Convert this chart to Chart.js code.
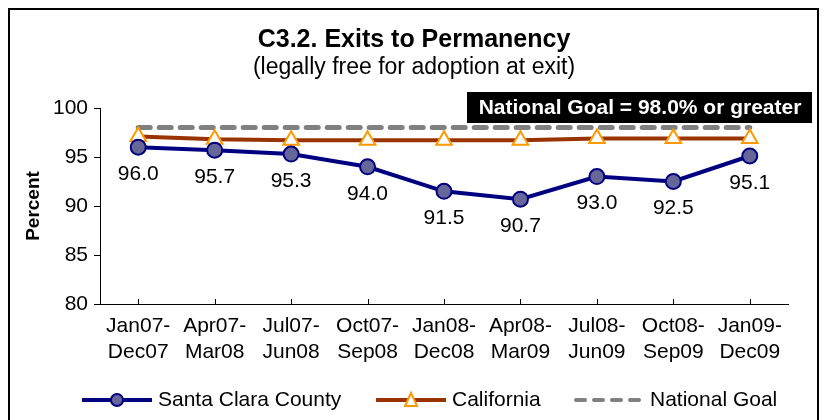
<!DOCTYPE html>
<html>
<head>
<meta charset="utf-8">
<script src="https://cdn.jsdelivr.net/npm/chart.js@4.4.1/dist/chart.umd.min.js"></script>
<style>
  html, body { margin: 0; padding: 0; background: #fff; }
  #wrap { width: 828px; height: 420px; }
</style>
</head>
<body>
<div id="wrap"><canvas id="chartExits" width="828" height="420"></canvas></div>
<script>
// Datos del gráfico
const periodos = [['Jan07-', 'Dec07'], ['Apr07-', 'Mar08'], ['Jul07-', 'Jun08'], ['Oct07-', 'Sep08'],
  ['Jan08-', 'Dec08'], ['Apr08-', 'Mar09'], ['Jul08-', 'Jun09'], ['Oct08-', 'Sep09'], ['Jan09-', 'Dec09']];
const santaClara = [96.0, 95.7, 95.3, 94.0, 91.5, 90.7, 93.0, 92.5, 95.1];
const california = [97.1, 96.8, 96.7, 96.7, 96.7, 96.7, 96.9, 96.9, 96.9];
const metaNacional = [98.0, 98.0, 98.0, 98.0, 98.0, 98.0, 98.0, 98.0, 98.0];
const ticksY = [80, 85, 90, 95, 100];
const titulo = 'C3.2. Exits to Permanency';
const subtitulo = '(legally free for adoption at exit)';
const notaMeta = 'National Goal = 98.0% or greater';

const FONT = '"Liberation Sans", Arial, sans-serif';

// Marco, títulos, etiquetas y leyenda
const extras = {
  id: 'extras',
  beforeDraw(chart) {
    const c = chart.ctx;
    c.save();
    c.fillStyle = '#fff';
    c.fillRect(0, 0, chart.width, chart.height);
    c.strokeStyle = '#000';
    c.lineWidth = 2;
    c.strokeRect(9, 9, 809, 430);
    c.restore();
  },
  afterDraw(chart) {
    const c = chart.ctx;
    c.save();
    c.fillStyle = '#000';
    c.textAlign = 'center';
    c.textBaseline = 'middle';
    c.font = 'bold 25px ' + FONT;
    c.fillText(titulo, 414, 40);
    c.font = '23px ' + FONT;
    c.fillText(subtitulo, 414, 68);

    // marcas del eje x hacia dentro
    const xs = chart.scales.x;
    c.strokeStyle = '#000';
    c.lineWidth = 1;
    xs.ticks.forEach((t, i) => {
      const px = Math.round(xs.getPixelForTick(i)) + 0.5;
      c.beginPath(); c.moveTo(px, xs.top); c.lineTo(px, xs.top - 5); c.stroke();
    });

    // caja de la meta
    c.fillStyle = '#000';
    c.fillRect(467, 92, 345, 31);
    c.fillStyle = '#fff';
    c.font = 'bold 21px ' + FONT;
    c.fillText(notaMeta, 640, 108);

    // valores de Santa Clara
    const meta = chart.getDatasetMeta(0);
    c.fillStyle = '#000';
    c.font = '21px ' + FONT;
    meta.data.forEach((pt, i) => {
      c.fillText(santaClara[i].toFixed(1), pt.x, pt.y + 27);
    });

    // leyenda
    const y = 400;
    c.lineWidth = 4;
    c.strokeStyle = '#000080';
    c.beginPath(); c.moveTo(82, y); c.lineTo(152, y); c.stroke();
    c.beginPath(); c.arc(117, y, 6, 0, Math.PI * 2);
    c.fillStyle = '#666699'; c.fill();
    c.lineWidth = 2; c.stroke();
    c.fillStyle = '#000';
    c.textAlign = 'left';
    c.font = '21px ' + FONT;
    c.fillText('Santa Clara County', 158, y);

    c.lineWidth = 4;
    c.strokeStyle = '#993300';
    c.beginPath(); c.moveTo(376, y); c.lineTo(446, y); c.stroke();
    c.beginPath(); c.moveTo(411, y - 7); c.lineTo(417, y + 6); c.lineTo(405, y + 6); c.closePath();
    c.fillStyle = '#fff'; c.fill();
    c.lineWidth = 2; c.strokeStyle = '#FF9900'; c.stroke();
    c.fillStyle = '#000';
    c.fillText('California', 452, y);

    c.lineWidth = 4;
    c.strokeStyle = '#808080';
    c.lineCap = 'round';
    c.setLineDash([9, 9]);
    c.beginPath(); c.moveTo(576, y); c.lineTo(641, y); c.stroke();
    c.setLineDash([]);
    c.fillText('National Goal', 650, y);
    c.restore();
  }
};

const ctxExits = document.getElementById('chartExits');
new Chart(ctxExits, {
  type: 'line',
  data: {
    labels: periodos,
    datasets: [{
      label: 'Santa Clara County',
      data: santaClara,
      borderColor: '#000080',
      borderWidth: 4,
      pointRadius: 7.5,
      pointBackgroundColor: '#666699',
      pointBorderColor: '#000080',
      pointBorderWidth: 2,
      order: 1
    }, {
      label: 'California',
      data: california,
      borderColor: '#993300',
      borderWidth: 4,
      pointStyle: 'triangle',
      pointRadius: 9,
      pointBackgroundColor: '#fff',
      pointBorderColor: '#FF9900',
      pointBorderWidth: 2,
      order: 2
    }, {
      label: 'National Goal',
      data: metaNacional,
      borderColor: '#808080',
      borderWidth: 5,
      borderCapStyle: 'round',
      borderDash: [12, 9],
      pointRadius: 0,
      order: 3
    }]
  },
  options: {
    responsive: false,
    animation: false,
    layout: { padding: { left: 20, right: 40, top: 108, bottom: 56 } },
    plugins: {
      legend: { display: false },
      tooltip: { enabled: false }
    },
    scales: {
      x: {
        offset: true,
        grid: { display: false, drawTicks: false },
        border: { display: true, color: '#000', width: 1 },
        ticks: { color: '#000', font: { family: FONT, size: 21 }, padding: 10, maxRotation: 0, autoSkip: false },
        afterFit(s) { s.height = 60; }
      },
      y: {
        min: 80,
        max: 100,
        afterBuildTicks(s) { s.ticks = ticksY.map(v => ({ value: v })); },
        grid: { drawOnChartArea: false, tickLength: 6, color: '#000' },
        border: { color: '#000', width: 1 },
        ticks: { color: '#000', font: { family: FONT, size: 21 }, padding: 6 },
        title: { display: true, text: 'Percent', color: '#000', font: { family: FONT, size: 19, weight: 'bold' }, padding: 2 },
        afterFit(s) { s.width = 80; }
      }
    }
  },
  plugins: [extras]
});
</script>
</body>
</html>
